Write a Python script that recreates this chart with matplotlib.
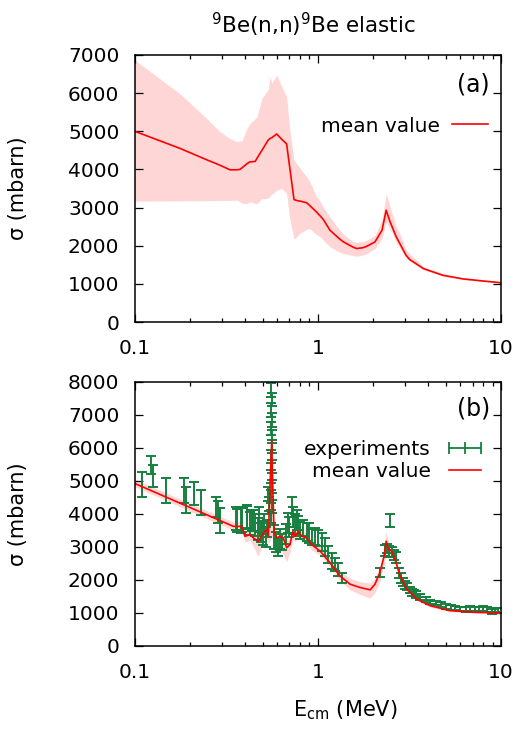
import matplotlib
matplotlib.use("Agg")
import matplotlib.pyplot as plt
from matplotlib.lines import Line2D
from matplotlib.ticker import LogLocator, FixedLocator, NullFormatter

plt.rcParams["font.family"] = ["DejaVu Sans"]
plt.rcParams["mathtext.default"] = "regular"

# ---- panel (a): evaluated mean value with uncertainty band ----
e_a = [0.1, 0.177, 0.237, 0.292, 0.331, 0.36, 0.375, 0.385, 0.41, 0.426,
       0.436, 0.455, 0.465, 0.495, 0.525, 0.536, 0.548, 0.56, 0.596, 0.635,
       0.675, 0.70, 0.741, 0.78, 0.80, 0.869, 0.90, 0.98, 1.03, 1.07,
       1.165, 1.32, 1.38, 1.56, 1.63, 1.77, 1.85, 2.05, 2.24, 2.36,
       2.48, 2.68, 2.80, 3.03, 3.17, 3.77, 4.82, 6.2, 8.0, 10.0]
mean_a = [5000, 4550, 4290, 4110, 3990, 3990, 4000, 4040, 4150, 4200,
          4200, 4210, 4290, 4500, 4700, 4770, 4810, 4830, 4930, 4790,
          4670, 4100, 3210, 3175, 3170, 3125, 3060, 2890, 2780, 2690,
          2405, 2170, 2100, 1960, 1925, 1950, 1985, 2100, 2405, 2930,
          2625, 2230, 2060, 1750, 1640, 1400, 1225, 1130, 1075, 1030]
up_a = [6870, 5980, 5420, 4990, 4810, 4730, 4740, 4750, 5075, 5200,
        5250, 5330, 5380, 5860, 6040, 6100, 6430, 6255, 6475, 6170,
        5905, 5120, 4245, 4100, 4025, 3805, 3700, 3300, 3150, 3020,
        2750, 2405, 2300, 2100, 2090, 2100, 2140, 2275, 2670, 3370,
        3020, 2500, 2320, 1900, 1795, 1450, 1255, 1150, 1090, 1045]
lo_a = [3170, 3175, 3180, 3185, 3190, 3195, 3150, 3120, 3105, 3150,
        3140, 3110, 3100, 3235, 3235, 3260, 3300, 3350, 3455, 3500,
        3370, 2755, 2170, 2275, 2330, 2430, 2450, 2300, 2230, 2150,
        1970, 1830, 1795, 1740, 1725, 1760, 1795, 1925, 2190, 2625,
        2450, 2100, 1950, 1680, 1600, 1370, 1200, 1110, 1060, 1015]

# ---- panel (b): mean value with band, plus experiments ----
e_b = [0.1, 0.346, 0.384, 0.400, 0.426, 0.445, 0.473, 0.504, 0.526, 0.537,
       0.548, 0.560, 0.567, 0.577, 0.596, 0.622, 0.648, 0.676, 0.705, 0.729,
       0.751, 0.783, 0.817, 0.869, 0.925, 1.03, 1.165, 1.32, 1.50, 1.70,
       1.93, 2.05, 2.18, 2.30, 2.36, 2.43, 2.53, 2.64, 2.81, 3.06,
       3.47, 4.10, 5.27, 7.07, 10.0]
mean_b = [4920, 3620, 3620, 3320, 3370, 3270, 3170, 3420, 3520, 3320,
          4820, 6220, 4820, 3420, 3270, 3320, 3270, 2970, 3070, 3470,
          3320, 3470, 3320, 3270, 3070, 2870, 2520, 2120, 1870, 1770,
          1700, 1870, 2220, 2720, 3170, 2920, 2870, 2620, 2120, 1720,
          1420, 1220, 1070, 1020, 1000]
lo_b = [4820, 3500, 3450, 3150, 3200, 3000, 2700, 3200, 3300, 3050,
        3200, 3300, 3200, 2600, 2900, 3100, 2750, 2550, 2850, 3250,
        3150, 3300, 3150, 3100, 2900, 2750, 2400, 1980, 1700, 1560,
        1450, 1620, 1950, 2450, 2900, 2700, 2700, 2500, 2020, 1650,
        1370, 1180, 1040, 1000, 985]
up_b = [5050, 3750, 3780, 3500, 3550, 3450, 3400, 3600, 3700, 3550,
        5000, 6350, 5000, 3600, 3500, 3500, 3450, 3200, 3250, 3650,
        3500, 3620, 3480, 3420, 3220, 3000, 2650, 2280, 2050, 1950,
        1900, 2050, 2400, 3000, 3480, 3150, 3050, 2750, 2230, 1800,
        1470, 1260, 1100, 1045, 1015]

exp_e = [0.109, 0.123, 0.126, 0.149, 0.186, 0.191, 0.211, 0.229, 0.278, 0.286,
         0.294, 0.356, 0.36, 0.379, 0.385, 0.41, 0.412, 0.425, 0.439, 0.44,
         0.455, 0.47, 0.477, 0.488, 0.50, 0.51, 0.52, 0.53, 0.535, 0.54,
         0.556, 0.560, 0.558, 0.562, 0.555, 0.559, 0.561, 0.557, 0.563, 0.556,
         0.560, 0.558, 0.562, 0.557,
         0.575, 0.59, 0.605, 0.62, 0.64, 0.67, 0.69, 0.70, 0.72, 0.735,
         0.75, 0.765, 0.78, 0.80, 0.83, 0.87, 0.90, 0.93, 0.96, 1.0,
         1.05, 1.09, 1.14, 1.19, 1.24, 1.29, 1.35,
         2.18, 2.32, 2.40, 2.45, 2.47, 2.55, 2.62, 2.68, 2.78, 2.85,
         2.92, 3.0, 3.08, 3.17, 3.25, 3.35, 3.45, 3.6, 3.9, 4.1,
         4.4, 4.7, 5.0, 5.3, 5.6, 6.0, 6.4, 6.8, 7.2, 7.6,
         8.0, 8.4, 8.9, 9.3, 9.6]
exp_y = [4900, 5480, 5150, 4700, 4700, 4420, 4620, 4350, 4200, 4050,
         3800, 3865, 3800, 3800, 3830, 3900, 3915, 3720, 3800, 3800,
         3650, 3540, 3830, 3440, 3420, 3700, 3300, 3550, 4600, 4300,
         7750, 7450, 7140, 6840, 6590, 6340, 6030, 5730, 5430, 5125,
         4820, 4520, 4220, 3915,
         3300, 3150, 3000, 3250, 3150, 3400, 3720, 3600, 4200, 3900,
         3700, 3820, 3620, 3500, 3570, 3440, 3420, 3300, 3320, 3270,
         3150, 2995, 2770, 2570, 2470, 2320, 2070,
         2230, 2890, 2950, 2850, 3800, 2850, 2750, 2680, 2200, 2050,
         1950, 1850, 1800, 1700, 1620, 1600, 1550, 1480, 1400, 1330,
         1300, 1260, 1200, 1160, 1150, 1120, 1100, 1140, 1120, 1110,
         1130, 1100, 1050, 1090, 1080]
exp_err = [380, 280, 330, 380, 380, 400, 350, 380, 300, 330,
           380, 350, 350, 380, 380, 350, 350, 350, 330, 330,
           330, 330, 380, 280, 350, 300, 300, 250, 200, 200,
           200, 200, 200, 200, 200, 200, 200, 200, 200, 200,
           200, 200, 200, 200,
           350, 300, 280, 300, 250, 300, 300, 300, 300, 300,
           300, 300, 300, 250, 250, 270, 300, 250, 250, 250,
           275, 275, 250, 250, 200, 200, 150,
           130, 170, 150, 170, 200, 150, 150, 170, 150, 150,
           120, 120, 100, 100, 100, 100, 100, 80, 80, 70,
           70, 70, 70, 70, 70, 70, 70, 70, 70, 70,
           70, 70, 80, 70, 70]

x_ticks = [0.1, 1, 10]
x_ticklabels = ["0.1", "1", "10"]

red = "#ff0000"
pink = "#ffd6d6"
green = "#17803f"

fig = plt.figure(figsize=(5.28, 7.33), dpi=100)
ax_a = fig.add_axes([0.2551, 0.5607, 0.6938, 0.3643])
ax_b = fig.add_axes([0.2551, 0.1187, 0.6938, 0.3606])

ax_a.fill_between(e_a, lo_a, up_a, color=pink, lw=0)
ax_a.plot(e_a, mean_a, color=red, lw=1.2, label="mean value")

ax_b.fill_between(e_b, lo_b, up_b, color=pink, lw=0)
ax_b.errorbar(exp_e, exp_y, yerr=exp_err, fmt="none", ecolor=green,
              elinewidth=1.4, capsize=3.8, capthick=1.4)
ax_b.plot(e_b, mean_b, color=red, lw=1.2)

for ax, ymax in ((ax_a, 7000), (ax_b, 8000)):
    ax.set_xscale("log")
    ax.set_xlim(0.1, 10)
    ax.set_ylim(0, ymax)
    ax.xaxis.set_major_locator(FixedLocator(x_ticks))
    ax.set_xticklabels(x_ticklabels)
    ax.xaxis.set_minor_locator(LogLocator(base=10, subs=range(2, 10)))
    ax.xaxis.set_minor_formatter(NullFormatter())
    ax.set_yticks(range(0, ymax + 1, 1000))
    ax.tick_params(which="both", direction="in", top=True, right=True,
                   width=0.9, labelsize=14.5)
    ax.tick_params(which="major", length=6)
    ax.tick_params(which="minor", length=3)
    ax.tick_params(axis="x", pad=12)
    ax.tick_params(axis="y", pad=11)
    for s in ax.spines.values():
        s.set_linewidth(1.1)
    ax.set_ylabel("σ (mbarn)", fontsize=15)
    ax.yaxis.set_label_coords(-0.29, 0.5)

ax_a.text(0.925, 0.89, "(a)", transform=ax_a.transAxes, fontsize=17,
          ha="center", va="center")
ax_b.text(0.925, 0.90, "(b)", transform=ax_b.transAxes, fontsize=17,
          ha="center", va="center")

ax_a.legend(loc="center right", bbox_to_anchor=(0.9645, 0.734),
            frameon=False, markerfirst=False, fontsize=14.5,
            borderaxespad=0, borderpad=0, handlelength=1.8, handletextpad=0.6)

exp_handle = Line2D([], [], color=green, lw=1.3, marker="|", markersize=8,
                    markeredgewidth=1.3)
mean_handle = Line2D([], [], color=red, lw=1.2)
ax_b.legend([exp_handle, mean_handle], ["experiments", "mean value"],
            loc="center right", bbox_to_anchor=(0.962, 0.70),
            frameon=False, markerfirst=False, fontsize=14.5, numpoints=3,
            borderaxespad=0, borderpad=0, handlelength=2.2,
            handletextpad=0.6, labelspacing=0.15)

ax_b.set_xlabel("E$_{cm}$ (MeV)", fontsize=15)
ax_b.xaxis.set_label_coords(0.574, -0.2)

fig.text(313.5 / 528, 1 - 25 / 733, "$^{9}$Be(n,n)$^{9}$Be elastic",
         fontsize=15.5, ha="center", va="center")

fig.savefig("out.png", dpi=100)
